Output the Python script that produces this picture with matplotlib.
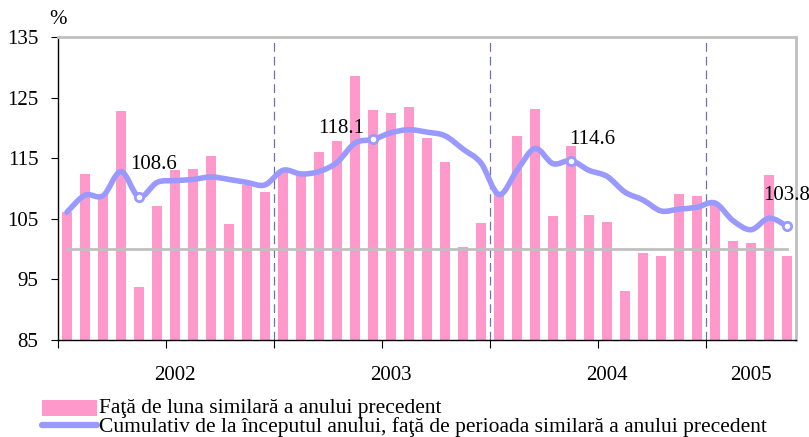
import matplotlib
matplotlib.use("Agg")
import matplotlib.pyplot as plt
from matplotlib.patches import Rectangle, PathPatch
from matplotlib.path import Path
from matplotlib.lines import Line2D

plt.rcParams['font.family'] = ['Liberation Serif', 'DejaVu Serif']

years = ['2002', '2003', '2004', '2005']
months_per_year = [12, 12, 12, 5]

# monthly index, same month of previous year (%)
monthly = [106.2, 112.4, 109.1, 122.8, 93.8, 107.1, 113.0, 113.2, 115.3, 104.1, 110.5, 109.5,
           113.0, 112.0, 116.0, 117.8, 128.6, 122.9, 122.4, 123.4, 118.3, 114.4, 100.3, 104.3,
           109.5, 118.6, 123.2, 105.5, 117.0, 105.7, 104.5, 93.1, 99.4, 98.9, 109.1, 108.8,
           107.6, 101.3, 101.0, 112.3, 98.8]

# cumulative from start of year, vs same period of previous year (%)
cumulative = [106.1, 108.9, 108.8, 112.8, 108.6, 111.0, 111.3, 111.5, 111.9, 111.5, 111.0, 110.6,
              113.0, 112.4, 112.8, 114.3, 117.5, 118.1, 119.2, 119.7, 119.3, 118.7, 116.5, 114.2,
              109.0, 113.0, 116.6, 114.1, 114.6, 113.0, 112.0, 109.4, 108.1, 106.3, 106.6, 106.9,
              107.6, 104.7, 103.2, 105.1, 103.8]

labelled = [4, 17, 28, 40]
label_text = ['108.6', '118.1', '114.6', '103.8']

legend_labels = ['Faţă de luna similară a anului precedent',
                 'Cumulativ de la începutul anului, faţă de perioada similară a anului precedent']

n = len(monthly)
x = list(range(n))

fig = plt.figure(figsize=(8.09, 4.37), dpi=100)
ax = fig.add_axes([58/809, 97/437, 738/809, 303/437])

ax.bar(x, monthly, width=0.52, color='#ff99cc', zorder=2)
ax.plot([0, n - 1], [100, 100], color='#c0c0c0', lw=2, zorder=3)

# smoothed line through the points (Catmull-Rom as cubic Bezier segments)
pts = list(zip(x, cumulative))
verts = [pts[0]]
codes = [Path.MOVETO]
for i in range(n - 1):
    p0 = pts[i - 1] if i > 0 else pts[i]
    p1 = pts[i]
    p2 = pts[i + 1]
    p3 = pts[i + 2] if i + 2 < n else pts[i + 1]
    c1 = (p1[0] + (p2[0] - p0[0]) / 6, p1[1] + (p2[1] - p0[1]) / 6)
    c2 = (p2[0] - (p3[0] - p1[0]) / 6, p2[1] - (p3[1] - p1[1]) / 6)
    verts += [c1, c2, p2]
    codes += [Path.CURVE4] * 3
ax.add_patch(PathPatch(Path(verts, codes), facecolor='none', edgecolor='#9999ff',
                       lw=4, joinstyle='round', capstyle='round', zorder=4))

ax.plot([x[i] for i in labelled], [cumulative[i] for i in labelled], 'o',
        ms=6, mfc='white', mec='#9999ff', mew=2, zorder=5)

offsets = [(0.8, 5.4), (-1.75, 1.8), (1.2, 3.5), (0.0, 5.0)]
for i, t, (dx, dy) in zip(labelled, label_text, offsets):
    ax.text(x[i] + dx, cumulative[i] + dy, t, fontsize=15, ha='center', va='center', zorder=6)

# year separators
start = 0
for m in months_per_year[:-1]:
    start += m
    ax.axvline(start - 0.5, color='#7070b0', lw=0.9, ls=(0, (7, 4)), zorder=1)

ax.set_xlim(-0.5, n - 0.5)
ax.set_ylim(85, 135)
ax.set_yticks([85, 95, 105, 115, 125, 135])
ax.tick_params(axis='y', labelsize=15, direction='out', length=5, pad=9)
ax.set_xticks([-0.5 + 6 * k for k in range(7)])
ax.set_xticklabels([])
ax.tick_params(axis='x', direction='out', length=6)

# year labels
start = 0
for yr, m in zip(years, months_per_year):
    ax.text(start + m // 2, 79.2, yr, fontsize=15, ha='center', va='center')
    start += m

ax.spines['top'].set_color('#c0c0c0')
ax.spines['top'].set_linewidth(2)
ax.spines['right'].set_color('#c0c0c0')
ax.spines['right'].set_linewidth(2)
ax.spines['left'].set_linewidth(1)
ax.spines['bottom'].set_linewidth(1)

fig.text(58/809, 1 - 19/437, '%', fontsize=15, ha='center', va='center')

# legend
fig.add_artist(Rectangle((42/809, 1 - 416/437), 55/809, 16/437,
                         transform=fig.transFigure, facecolor='#ff99cc', edgecolor='none'))
fig.add_artist(Line2D([42/809, 97/809], [1 - 425/437, 1 - 425/437],
                      transform=fig.transFigure, color='#9999ff', lw=4.5, solid_capstyle='round'))
fig.text(99/809, 1 - 408/437, legend_labels[0], fontsize=15.5, ha='left', va='center')
fig.text(99/809, 1 - 427/437, legend_labels[1], fontsize=15.5, ha='left', va='center')

fig.savefig('out.png', dpi=100)
